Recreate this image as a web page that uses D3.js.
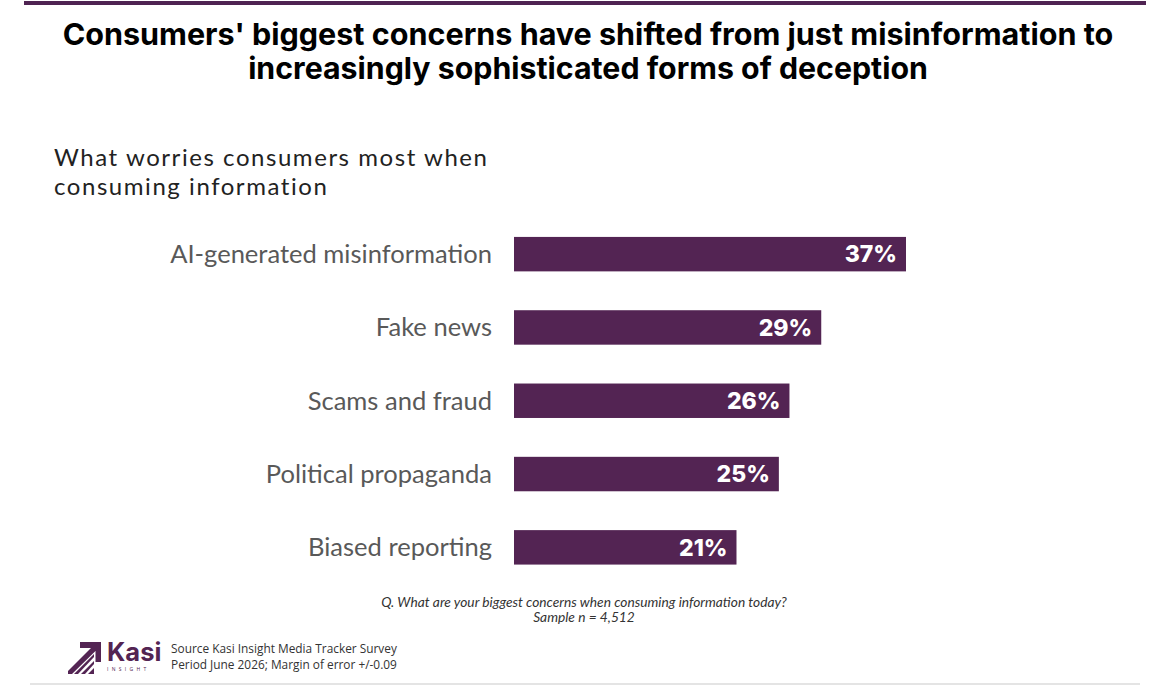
<!DOCTYPE html>
<html><head><meta charset="utf-8">
<script src="https://cdn.jsdelivr.net/npm/d3@7"></script>
<style>body{margin:0;background:#fff;}svg{display:block;}</style>
</head><body>
<svg id="c" width="1176" height="686"></svg>
<script>
const categories = ["AI-generated misinformation","Fake news","Scams and fraud","Political propaganda","Biased reporting"];
const values = [37, 29, 26, 25, 21];
const titleLines = ["Consumers' biggest concerns have shifted from just misinformation to","increasingly sophisticated forms of deception"];
const subtitleLines = ["What worries consumers most when","consuming information"];
const noteLines = ["Q. What are your biggest concerns when consuming information today?","Sample n = 4,512"];
const sourceLines = ["Source Kasi Insight Media Tracker Survey","Period June 2026; Margin of error +/-0.09"];

const svg = d3.select("#c");
const purple = "#532453";

function fit(sel, target){
  const w = sel.node().getComputedTextLength();
  const fs = parseFloat(sel.attr("font-size"));
  const n = fs*target/w;
  sel.attr("font-size", n);
  return n;
}

// top band
svg.append("rect").attr("x",24).attr("y",1).attr("width",1122).attr("height",4).attr("fill","#4f2352");
// bottom line
svg.append("rect").attr("x",30).attr("y",683).attr("width",1110).attr("height",2).attr("fill","#e4e4e4");

// title
const tw = [1051, 680];
titleLines.forEach((t,i)=>{
  const s = svg.append("text").attr("x",588).attr("y",45+i*34).attr("text-anchor","middle")
    .attr("font-family","Inter, 'Open Sans', sans-serif").attr("font-weight",700).attr("font-size",27)
    .attr("fill","#000").text(t);
  fit(s, tw[i]);
});

// subtitle (font 24, letter-spacing tuned to reach the reference width)
const subFs = 24;
let subLs = 0;
subtitleLines.forEach((t,i)=>{
  const s = svg.append("text").attr("x",54).attr("y",166+i*29)
    .attr("font-family","Lato, 'Open Sans', sans-serif").attr("font-size",subFs).attr("fill","#222").text(t);
  if(i===0){
    const w = s.node().getComputedTextLength();
    subLs = (433 - w)/(t.length-1);
  }
  s.attr("letter-spacing", subLs);
});

// scales
const x = d3.scaleLinear().domain([0, 37]).range([514, 906]);
const y = d3.scaleBand().domain(categories).range([217.5, 584]).paddingInner(0.53).paddingOuter(0.265);

const g = svg.append("g");
g.selectAll("rect.bar").data(categories).join("rect").attr("class","bar")
  .attr("x", x(0)).attr("y", d=>y(d)).attr("height", y.bandwidth())
  .attr("width", (d,i)=>x(values[i])-x(0)).attr("fill", purple);

const labs = g.selectAll("text.cat").data(categories).join("text").attr("class","cat")
  .attr("x", 492).attr("y", d=>y(d)+y.bandwidth()/2).attr("dy","0.35em").attr("text-anchor","end")
  .attr("font-family","Lato, 'Open Sans', sans-serif").attr("font-size",22).attr("fill","#595959").text(d=>d);
const first = labs.filter((d,i)=>i===0);
const w0 = first.node().getComputedTextLength();
labs.attr("font-size", 22*322/w0);

g.selectAll("text.val").data(categories).join("text").attr("class","val")
  .attr("x", (d,i)=>x(values[i])-9).attr("y", d=>y(d)+y.bandwidth()/2).attr("dy","0.36em").attr("text-anchor","end")
  .attr("font-family","Inter, 'Open Sans', sans-serif").attr("font-weight",800).attr("font-size",23).attr("fill","#fff")
  .text((d,i)=>values[i]+"%");

// notes
let noteFs = 11;
noteLines.forEach((t,i)=>{
  const s = svg.append("text").attr("x",584).attr("y",607+i*15).attr("text-anchor","middle")
    .attr("font-family","Lato, 'Open Sans', sans-serif").attr("font-style","italic").attr("font-size",noteFs).attr("fill","#333").text(t);
  if(i===0) noteFs = fit(s, 406); else s.attr("font-size", noteFs);
});

// source
let srcFs = 11;
sourceLines.forEach((t,i)=>{
  const s = svg.append("text").attr("x",171).attr("y",653+i*16)
    .attr("font-family","'Open Sans', sans-serif").attr("font-size",srcFs).attr("fill","#333").text(t);
  if(i===0) srcFs = fit(s, 226); else s.attr("font-size", srcFs);
});

// logo
const lg = svg.append("g");
lg.append("path").attr("fill",purple).attr("d",
  "M80,642 L101,642 L101,662 L95.5,662 L95.5,651 L72,674 L68,674 L68,671 L91,648 L80,648 Z");
lg.append("path").attr("fill",purple).attr("d","M74,674 L94,654 L94,657 L78,674 Z");
lg.append("path").attr("fill",purple).attr("d","M81,674 L94,661 L94,664 L85,674 Z");
lg.append("path").attr("fill",purple).attr("d","M88,674 L94,668 L94,674 Z");
lg.append("text").attr("x",107).attr("y",661).attr("font-family","Inter, 'Open Sans', sans-serif")
  .attr("font-weight",700).attr("font-size",25.5).attr("fill",purple).text("Kasi");
lg.append("text").attr("x",107).attr("y",671).attr("font-family","'Open Sans', sans-serif")
  .attr("font-size",5).attr("letter-spacing",3.3).attr("fill",purple).text("INSIGHT");
</script>
</body></html>
